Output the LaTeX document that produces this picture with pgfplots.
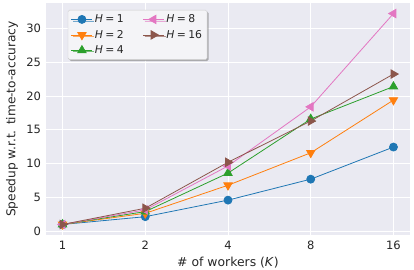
\documentclass[border=0pt]{standalone}
\usepackage{fontspec}
\setmainfont{DejaVu Sans}
\usepackage{pgfplots}
\pgfplotsset{compat=1.18}
\usetikzlibrary{shadows}
\definecolor{bgc}{HTML}{EAEAF2}
\definecolor{txt}{HTML}{262626}
\definecolor{c1}{HTML}{1F77B4}
\definecolor{c2}{HTML}{FF7F0E}
\definecolor{c3}{HTML}{2CA02C}
\definecolor{c4}{HTML}{E377C2}
\definecolor{c5}{HTML}{8C564B}
\newcommand{\hh}[1]{\textit{H}\hspace{0.22em}=\hspace{0.22em}#1}
\begin{document}
\begin{tikzpicture}
\path[use as bounding box] (-46pt,-34pt) rectangle (368pt,235pt);
\begin{axis}[
  at={(0,0)}, anchor=south west,
  scale only axis, width=364pt, height=232pt,
  xmode=log, log basis x=2,
  xmin=0.8706, xmax=18.38, ymin=-0.56, ymax=33.76,
  xtick={1,2,4,8,16}, xticklabels={1,2,4,8,16},
  ytick={0,5,10,15,20,25,30},
  /pgf/number format/assume math mode=true,
  axis background/.style={fill=bgc},
  axis line style={draw=none},
  major tick style={draw=none}, minor tick style={draw=none},
  grid=major, major grid style={white, line width=0.9pt},
  tick label style={font=\fontsize{11.5}{13}\selectfont, text=txt},
  xticklabel style={yshift=-2.5pt},
  yticklabel style={xshift=-1.5pt},
  xlabel={\# of workers (\textit{K})},
  ylabel={Speedup w.r.t. time-to-accuracy},
  every axis x label/.style={at={(axis description cs:0.5,0)}, anchor=center, yshift=-28pt, font=\fontsize{12.4}{14}\selectfont, text=txt},
  every axis y label/.style={at={(axis description cs:0,0.5)}, rotate=90, anchor=center, yshift=34pt, font=\fontsize{12.2}{14}\selectfont, text=txt},
  legend columns=2,
  legend style={at={(0.06,0.97)}, anchor=north west, font=\fontsize{10.8}{12}\selectfont, text=txt,
    draw={rgb,255:red,204;green,204;blue,204}, fill={rgb,255:red,244;green,244;blue,247}, rounded corners=1.5pt,
    drop shadow={shadow xshift=1.5pt, shadow yshift=-1.5pt, fill=gray, opacity=0.6},
    /tikz/every odd column/.append style={column sep=0pt},
    /tikz/every even column/.append style={column sep=17pt},
    inner xsep=3pt, inner ysep=2.5pt, row sep=2pt},
  legend cell align=left,
  legend image code/.code={\draw[mark repeat=2,mark phase=2] plot coordinates {(0pt,0pt) (10.5pt,0pt) (21pt,0pt)};},
  every axis plot/.append style={line width=0.8pt},
  c1s/.style={c1, mark=*, mark size=4pt},
  c2s/.style={c2, mark=triangle*, mark options={rotate=180}, mark size=4.8pt},
  c3s/.style={c3, mark=triangle*, mark size=4.8pt},
  c4s/.style={c4, mark=triangle*, mark options={rotate=90}, mark size=4.8pt},
  c5s/.style={c5, mark=triangle*, mark options={rotate=-90}, mark size=4.8pt},
]
\addplot[c1s, forget plot] coordinates {(1,1) (2,2.15) (4,4.6) (8,7.7) (16,12.45)};
\addplot[c2s, forget plot] coordinates {(1,1) (2,2.65) (4,6.8) (8,11.6) (16,19.4)};
\addplot[c3s, forget plot] coordinates {(1,1) (2,2.9) (4,8.6) (8,16.6) (16,21.4)};
\addplot[c4s, forget plot] coordinates {(1,1) (2,3.15) (4,9.65) (8,18.4) (16,32.2)};
\addplot[c5s, forget plot] coordinates {(1,1) (2,3.4) (4,10.2) (8,16.3) (16,23.25)};
\addlegendimage{c1s, line width=0.8pt}
\addlegendentry{\hh{1}}
\addlegendimage{c4s, line width=0.8pt}
\addlegendentry{\hh{8}}
\addlegendimage{c2s, line width=0.8pt}
\addlegendentry{\hh{2}}
\addlegendimage{c5s, line width=0.8pt}
\addlegendentry{\hh{16}}
\addlegendimage{c3s, line width=0.8pt}
\addlegendentry{\hh{4}}
\end{axis}
\end{tikzpicture}
\end{document}
